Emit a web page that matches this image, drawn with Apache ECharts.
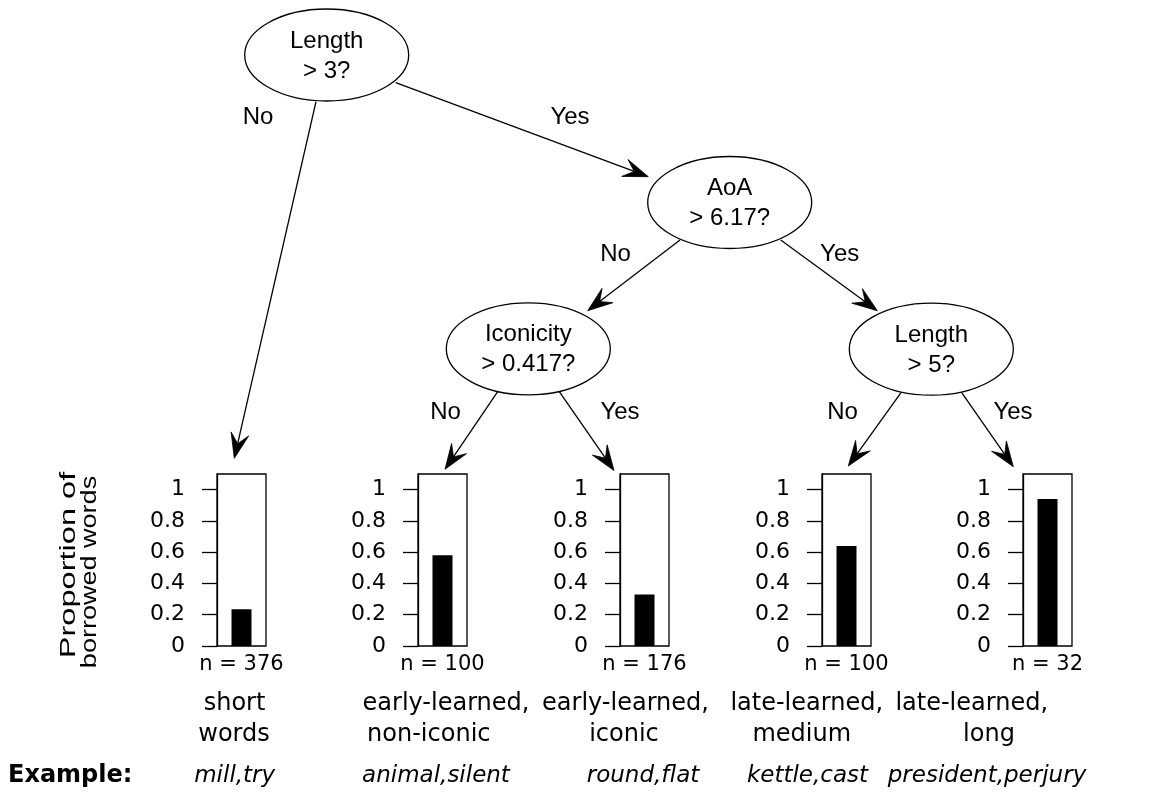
<!DOCTYPE html>
<html><head><meta charset="utf-8">
<script src="https://cdn.jsdelivr.net/npm/echarts@6/dist/echarts.min.js"></script>
<style>html,body{margin:0;padding:0;background:#fff}#c{width:1163px;height:792px}</style>
</head><body><div id="c"></div>
<script>
// ---------- data ----------
const splitVars = ['Length', 'AoA', 'Iconicity', 'Length'];
const splitThresholds = ['> 3?', '> 6.17?', '> 0.417?', '> 5?'];
const branchLabels = ['No', 'Yes'];
const leafProportions = [0.235, 0.58, 0.33, 0.64, 0.94];
const leafN = [376, 100, 176, 100, 32];
const leafNameLine1 = ['short', 'early-learned,', 'early-learned,', 'late-learned,', 'late-learned,'];
const leafNameLine2 = ['words', 'non-iconic', 'iconic', 'medium', 'long'];
const leafExamples = ['mill,try', 'animal,silent', 'round,flat', 'kettle,cast', 'president,perjury'];
const yTickValues = [0, 0.2, 0.4, 0.6, 0.8, 1];
const yAxisTitle = ['Proportion of', 'borrowed words'];
const exampleLabel = 'Example:';

// ---------- layout (positions / styles only) ----------
const layout = {
  nodes: [[326.7, 55], [729.7, 202.5], [528.3, 348.8], [931.3, 349.2]],
  rx: 82, ry: 46,
  boxLeft: [217, 418, 620, 822, 1023], boxW: 49, boxTop: 474, boxH: 172,
  edges: [
    [316, 101.7, 234.3, 458.3],
    [395.7, 82.7, 648.3, 176.7],
    [680, 240, 587.7, 310.7],
    [780.7, 240, 877.3, 310.7],
    [497.7, 391.7, 445, 469.3],
    [559.3, 391.7, 614, 470.5],
    [901, 392.7, 848.3, 466],
    [961.7, 392.7, 1013.3, 466.7]
  ],
  edgeLabelPos: [[258, 117.5], [570, 117.5], [615.5, 254.5], [839.7, 254.2],
                 [445.5, 412.5], [620, 412.5], [842.5, 412.5], [1013, 412.5]],
  line1X: [234.5, 446, 625.5, 806.7, 971.7],
  line2X: [234, 428.8, 624, 801.7, 989],
  exampleX: [234.7, 436, 643, 807.5, 987],
  rowY: [703.4, 735, 776],
  yTitle: [[68.5, 565, 186.6], [90.2, 572, 192.3]]
};

const SANS = '"Liberation Sans", Arial, sans-serif';
const DEJA = '"DejaVu Sans", sans-serif';

function txt(text, x, y, font, align, extra) {
  return Object.assign({
    type: 'text', x: x, y: y, silent: true,
    style: { text: text, font: font, fill: '#000',
      align: align || 'center', textAlign: align || 'center',
      verticalAlign: 'middle', textVerticalAlign: 'middle' }
  }, extra || {});
}

const graphics = [];
// edges + arrowheads
layout.edges.forEach(function (e, i) {
  const x0 = e[0], y0 = e[1], x1 = e[2], y1 = e[3];
  const dx = x1 - x0, dy = y1 - y0, len = Math.hypot(dx, dy);
  const ux = dx / len, uy = dy / len, px = -uy, py = ux;
  const AL = 25, AW = 9, AN = 15;
  graphics.push({ type: 'line', silent: true, z: 1,
    shape: { x1: x0, y1: y0, x2: x1 - ux * AN, y2: y1 - uy * AN },
    style: { stroke: '#000', lineWidth: 1.3 } });
  graphics.push({ type: 'polygon', silent: true, z: 1,
    shape: { points: [[x1, y1], [x1 - ux * AL + px * AW, y1 - uy * AL + py * AW],
      [x1 - ux * AN, y1 - uy * AN], [x1 - ux * AL - px * AW, y1 - uy * AL - py * AW]] },
    style: { fill: '#000', stroke: '#000', lineWidth: 0.8 } });
  const lp = layout.edgeLabelPos[i];
  graphics.push(txt(branchLabels[i % 2], lp[0], lp[1], '24px ' + SANS));
});
// nodes
layout.nodes.forEach(function (n, i) {
  graphics.push({ type: 'ellipse', silent: true, z: 2,
    shape: { cx: n[0], cy: n[1], rx: layout.rx, ry: layout.ry },
    style: { fill: '#fff', stroke: '#000', lineWidth: 1.3 } });
  const t = txt(splitVars[i] + '\n' + splitThresholds[i], n[0], n[1] + 1, '24px ' + SANS, 'center', { z: 3 });
  t.style.lineHeight = 30;
  graphics.push(t);
});
// leaf descriptions
for (let i = 0; i < leafNameLine1.length; i++) {
  graphics.push(txt(leafNameLine1[i], layout.line1X[i], layout.rowY[0], '24px ' + DEJA));
  graphics.push(txt(leafNameLine2[i], layout.line2X[i], layout.rowY[1], '24px ' + DEJA));
  graphics.push(txt(leafExamples[i], layout.exampleX[i], layout.rowY[2], 'italic 23px ' + DEJA));
}
graphics.push(txt(exampleLabel, 8, layout.rowY[2], 'bold 24px ' + DEJA, 'left'));
// y title (stretched along its length to match)
const mctx = document.createElement('canvas').getContext('2d');
yAxisTitle.forEach(function (s, i) {
  const p = layout.yTitle[i];
  const f = '22px ' + SANS;
  mctx.font = f;
  const w = mctx.measureText(s).width;
  graphics.push(txt(s, p[0], p[1], f, 'center', { rotation: Math.PI / 2, scaleX: p[2] / w }));
});

const option = {
  animation: false,
  backgroundColor: '#fff',
  grid: leafProportions.map(function (v, i) {
    return { left: layout.boxLeft[i], top: layout.boxTop, width: layout.boxW, height: layout.boxH,
      show: true, borderColor: '#000', borderWidth: 1.3, backgroundColor: 'transparent' };
  }),
  xAxis: leafN.map(function (n, i) {
    return { type: 'category', gridIndex: i, data: ['n = ' + n],
      axisLine: { show: false }, axisTick: { show: false }, splitLine: { show: false },
      axisLabel: { fontFamily: 'DejaVu Sans', fontSize: 21, color: '#000', margin: 8 } };
  }),
  yAxis: leafN.map(function (n, i) {
    return { type: 'value', gridIndex: i, min: 0, max: 1.1,
      axisLine: { show: true, lineStyle: { color: '#000', width: 1.3 } },
      axisTick: { show: true, inside: false, length: 15, customValues: yTickValues,
        lineStyle: { color: '#000', width: 1.3 } },
      axisLabel: { customValues: yTickValues, fontFamily: 'DejaVu Sans', fontSize: 22,
        color: '#000', margin: 32 },
      splitLine: { show: false } };
  }),
  series: leafProportions.map(function (v, i) {
    return { type: 'bar', xAxisIndex: i, yAxisIndex: i, data: [v], barWidth: 20,
      itemStyle: { color: '#000' }, silent: true };
  }),
  graphic: { elements: graphics }
};
const chart = echarts.init(document.getElementById('c'), null, { renderer: 'canvas' });
chart.setOption(option);
</script>
</body></html>
